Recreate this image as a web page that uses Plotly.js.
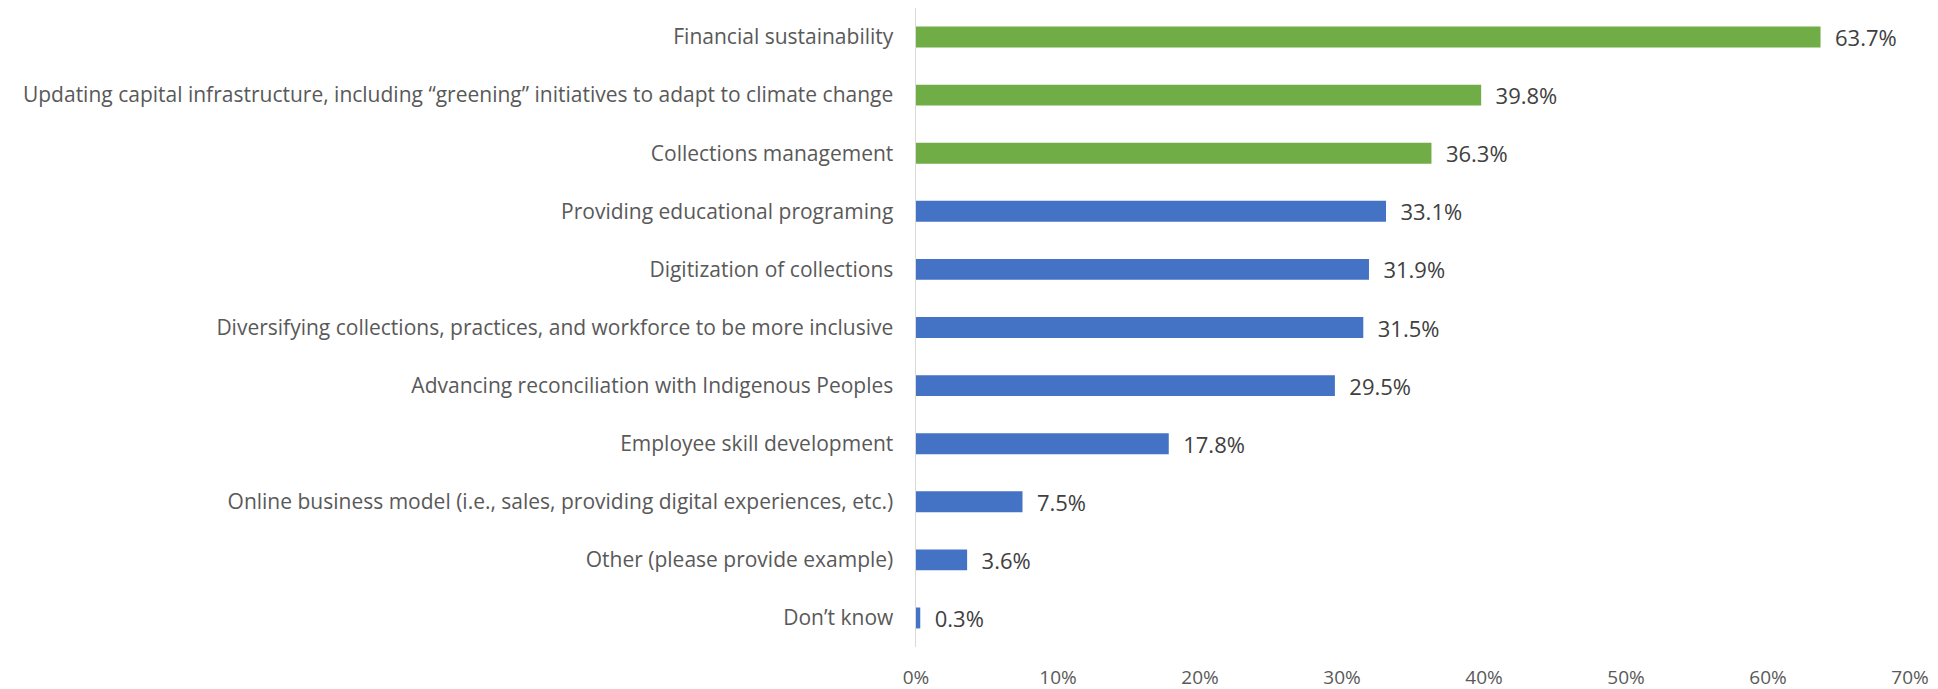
<!DOCTYPE html>
<html>
<head>
<meta charset="utf-8">
<script src="https://cdn.plot.ly/plotly-3.0.1.min.js"></script>
<style>html,body{margin:0;padding:0;background:#fff;}#chart{width:1938px;height:689px;}</style>
</head>
<body>
<div id="chart"></div>
<script>
const categories = [
  "Financial sustainability",
  "Updating capital infrastructure, including “greening” initiatives to adapt to climate change",
  "Collections management",
  "Providing educational programing",
  "Digitization of collections",
  "Diversifying collections, practices, and workforce to be more inclusive",
  "Advancing reconciliation with Indigenous Peoples",
  "Employee skill development",
  "Online business model (i.e., sales, providing digital experiences, etc.)",
  "Other (please provide example)",
  "Don’t know"
];
const values = [63.7, 39.8, 36.3, 33.1, 31.9, 31.5, 29.5, 17.8, 7.5, 3.6, 0.3];
const highlighted = [true, true, true, false, false, false, false, false, false, false, false];
const xTicks = [0, 10, 20, 30, 40, 50, 60, 70];

const GREEN = '#70AD47', BLUE = '#4472C4';
const FONT = 'Open Sans, sans-serif';

const trace = {
  type: 'bar',
  orientation: 'h',
  y: categories,
  x: values,
  marker: {color: highlighted.map(h => h ? GREEN : BLUE)},
  text: values.map(v => v.toFixed(1) + '%'),
  texttemplate: '  %{text}',
  textposition: 'outside',
  constraintext: 'none',
  cliponaxis: false,
  textfont: {family: FONT, size: 22, color: '#404040'},
  hoverinfo: 'skip'
};

const layout = {
  width: 1938,
  height: 689,
  margin: {l: 916, r: 28, t: 8, b: 42},
  paper_bgcolor: '#fff',
  plot_bgcolor: '#fff',
  showlegend: false,
  bargap: 0.64,
  xaxis: {
    range: [0, 70],
    tickvals: xTicks,
    ticktext: xTicks.map(t => t + '%'),
    showgrid: false,
    zeroline: false,
    showline: false,
    ticks: '',
    ticklabelstandoff: 17,
    tickfont: {family: FONT, size: 19, color: '#595959'},
    fixedrange: true
  },
  yaxis: {
    autorange: 'reversed',
    showgrid: false,
    zeroline: false,
    showline: true,
    linecolor: '#D9D9D9',
    linewidth: 1.5,
    ticks: '',
    ticklabelstandoff: 17,
    tickfont: {family: FONT, size: 21, color: '#595959'},
    fixedrange: true
  }
};

Plotly.newPlot('chart', [trace], layout, {displayModeBar: false, staticPlot: true});
</script>
</body>
</html>
